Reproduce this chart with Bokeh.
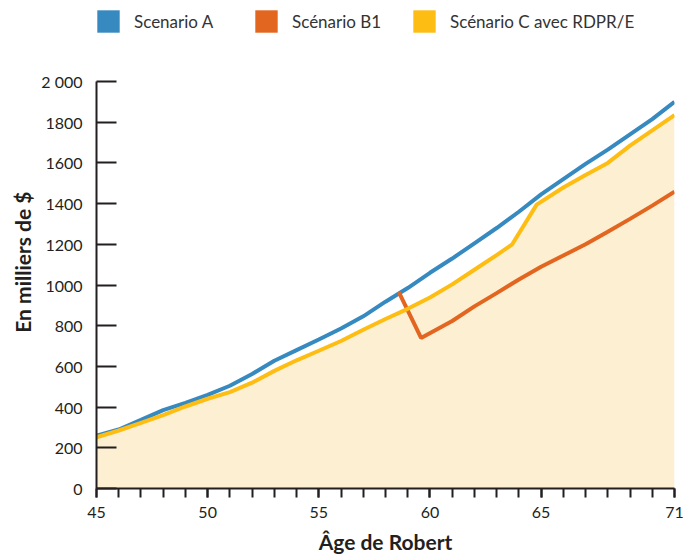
from bokeh.plotting import figure
from bokeh.models import FixedTicker, Range1d, Legend, LegendItem, Title
from bokeh.embed import file_html
from bokeh.resources import INLINE

# ---- data ----
ages_a = list(range(45, 72))
scenario_a = [260, 290, 337, 385, 421, 460, 505, 563, 628, 680, 732, 786, 846,
              918, 985, 1060, 1130, 1205, 1280, 1360, 1445, 1520, 1595, 1665,
              1740, 1815, 1900]

ages_b1 = [58.6, 59.6, 61, 62, 63, 64, 65, 66, 67, 68, 69, 70, 71]
scenario_b1 = [965, 740, 823, 895, 960, 1027, 1090, 1145, 1200, 1262, 1325, 1390, 1458]

ages_c = [45, 46, 47, 48, 49, 50, 51, 52, 53, 54, 55, 56, 57, 58, 59, 60, 61, 62,
          63, 63.7, 64.8, 66, 67, 68, 69, 70, 71]
scenario_c = [252, 285, 323, 361, 403, 441, 474, 520, 578, 630, 677, 725, 780,
              833, 883, 939, 1003, 1075, 1147, 1200, 1395, 1479, 1541, 1600,
              1685, 1760, 1835]

x_ticks = [45, 50, 55, 60, 65, 71]
x_minor = list(range(45, 72))
y_ticks = [0, 200, 400, 600, 800, 1000, 1200, 1400, 1600, 1800, 2000]
y_labels = {2000: "2 000"}
y_max = 2000

names = ["Scenario A", "Scénario B1", "Scénario C avec RDPR/E"]
colors = ["#378ac0", "#e2661f", "#fdbd13"]
FILL = "#fdefd1"
INK = "#231f20"
FONT = "Lato"

# layout (pixels)
W, H = 684, 556
LEFT, RIGHT, BOTTOM = 96, 10, 68
AXIS_TOP = 81                       # where the 2 000 tick sits
frame_h = H - BOTTOM
y_end = y_max * frame_h / (frame_h - AXIS_TOP)   # leave room for the legend

p = figure(width=W, height=H, output_backend="svg", toolbar_location=None,
           title=None,
           x_range=Range1d(45, 71), y_range=Range1d(0, y_end),
           min_border_left=LEFT, min_border_right=RIGHT, min_border_top=0,
           min_border_bottom=BOTTOM)
p.outline_line_color = None
p.xgrid.grid_line_color = None
p.ygrid.grid_line_color = None
p.background_fill_color = "white"
p.border_fill_color = "white"

p.varea(x=ages_c, y1=[0] * len(ages_c), y2=scenario_c, fill_color=FILL)
p.line(ages_a, scenario_a, line_color=colors[0], line_width=4)
p.line(ages_b1, scenario_b1, line_color=colors[1], line_width=4)
p.line(ages_c, scenario_c, line_color=colors[2], line_width=4)

# legend swatches
nan = float("nan")
swatches = [p.quad(left=[nan], right=[nan], top=[nan], bottom=[nan],
                   fill_color=c, line_color=None) for c in colors]
legend = Legend(items=[LegendItem(label=n, renderers=[r]) for n, r in zip(names, swatches)],
                orientation="horizontal", location=(-2, frame_h - 7 - 28),
                glyph_width=28, glyph_height=28, label_standoff=12,
                label_width=116, spacing=2, padding=0, margin=0,
                background_fill_alpha=0, border_line_color=None,
                label_text_font=FONT, label_text_font_size="17px",
                label_text_color="#333333")
p.add_layout(legend)

# x axis
xa = p.xaxis[0]
xa.ticker = FixedTicker(ticks=x_ticks, minor_ticks=x_minor)
xa.axis_line_color = INK
xa.axis_line_width = 2
xa.major_tick_line_color = INK
xa.minor_tick_line_color = INK
xa.major_tick_line_width = 2
xa.minor_tick_line_width = 2
xa.major_tick_in = 0
xa.major_tick_out = 9
xa.minor_tick_in = 0
xa.minor_tick_out = 9
xa.major_label_standoff = 9
xa.major_label_text_font = FONT
xa.major_label_text_font_size = "16px"
xa.major_label_text_color = INK
xa.axis_label = "Âge de Robert"
xa.axis_label_text_font = FONT
xa.axis_label_text_font_size = "21px"
xa.axis_label_text_font_style = "bold"
xa.axis_label_text_color = INK
xa.axis_label_standoff = 8

# y axis
ya = p.yaxis[0]
ya.ticker = FixedTicker(ticks=y_ticks)
ya.bounds = (0, y_max)
ya.major_label_overrides = y_labels
ya.axis_line_color = INK
ya.axis_line_width = 2
ya.major_tick_line_color = INK
ya.major_tick_line_width = 2
ya.major_tick_in = 20
ya.major_tick_out = 0
ya.minor_tick_line_color = None
ya.major_label_standoff = 14
ya.major_label_text_font = FONT
ya.major_label_text_font_size = "16px"
ya.major_label_text_color = INK

y_title = Title(text="En milliers de $", align="right", offset=191,
                vertical_align="middle", text_font=FONT, text_font_size="21px",
                text_font_style="bold", text_color=INK, standoff=6)
p.add_layout(y_title, "left")

open("out.html", "w").write(file_html(p, INLINE))
